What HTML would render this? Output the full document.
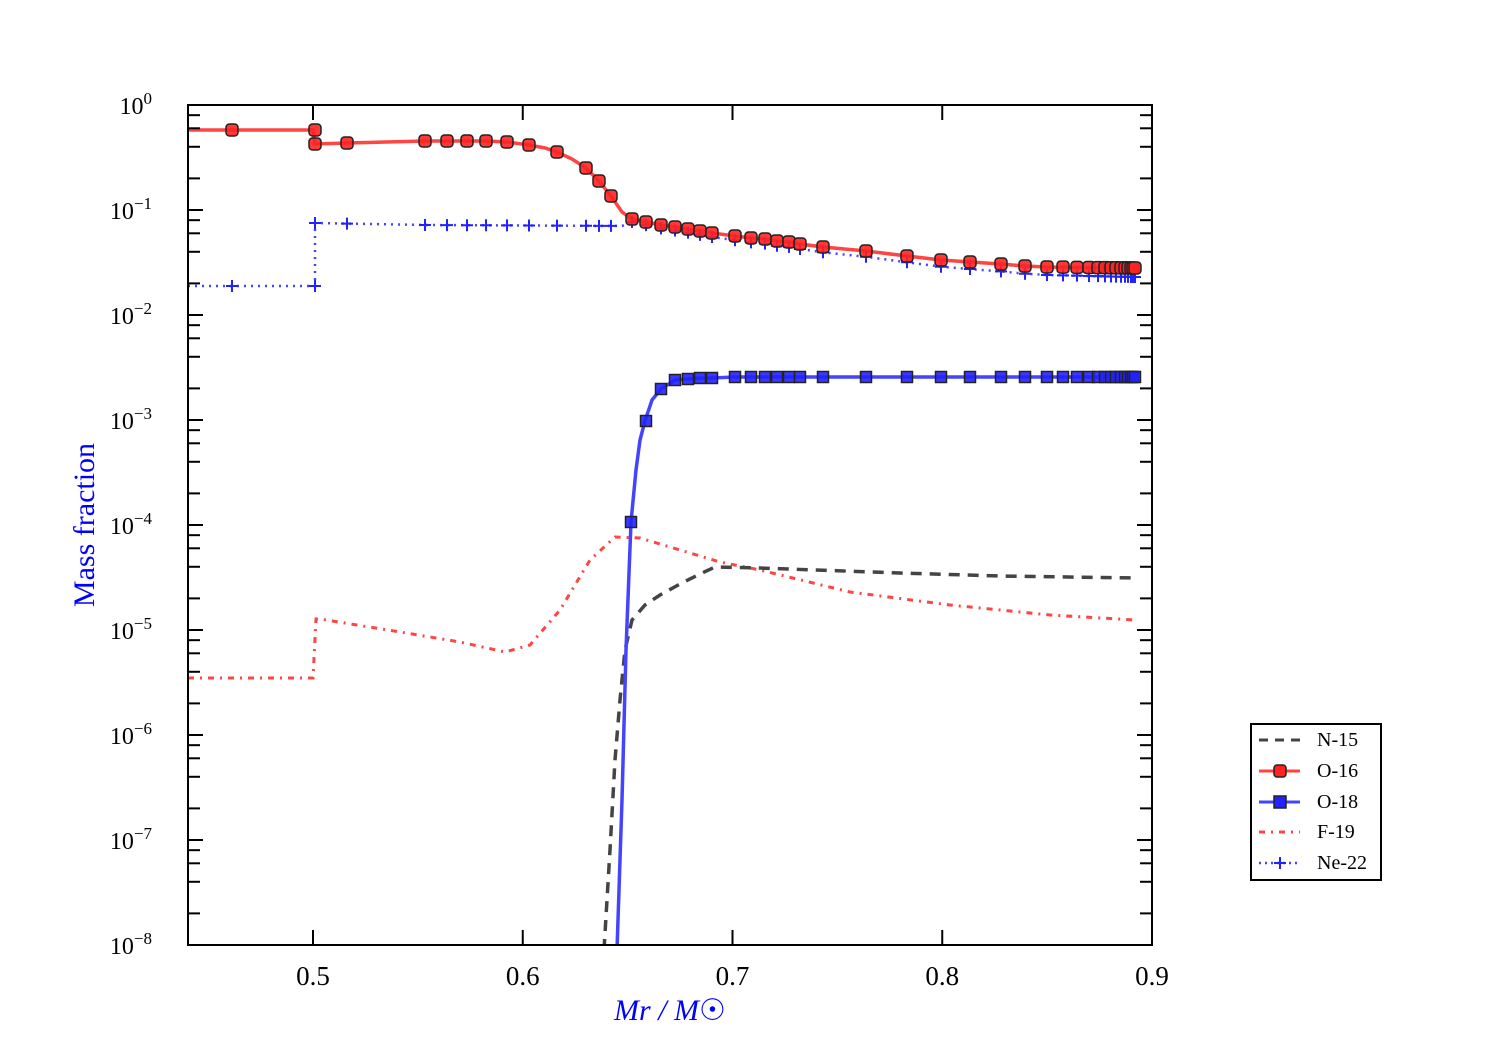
<!DOCTYPE html>
<html><head><meta charset="utf-8"><style>
body{margin:0;background:#fff}
text{font-family:"Liberation Serif",serif}
</style></head><body>
<svg id="s" width="1500" height="1050" xmlns="http://www.w3.org/2000/svg">
<rect width="1500" height="1050" fill="#fff"/>
<defs><clipPath id="c"><rect x="188" y="105" width="964" height="840"/></clipPath></defs>
<g id="plot" clip-path="url(#c)"></g>
<g id="ax"></g>
<rect x="188" y="105" width="964" height="840" fill="none" stroke="#000" stroke-width="2"/>
<text x="670" y="1020" font-size="30" fill="#00f" text-anchor="middle" font-style="italic">Mr / M<tspan font-style="normal">☉</tspan></text>
<text transform="translate(94,525) rotate(-90)" font-size="30" fill="#00f" text-anchor="middle">Mass fraction</text>
<g id="leg">
<rect x="1251" y="724" width="130" height="156" fill="#fff" stroke="#000" stroke-width="2"/>
<line x1="1259" y1="740" x2="1300" y2="740" stroke="#444" stroke-width="3" stroke-dasharray="9,7"/>
<line x1="1259" y1="771" x2="1300" y2="771" stroke="#f44" stroke-width="3"/>
<rect x="1274" y="765" width="12" height="12" rx="3" fill="#f22" stroke="#222" stroke-width="1.5"/>
<line x1="1259" y1="802" x2="1300" y2="802" stroke="#44f" stroke-width="3"/>
<rect x="1274" y="796" width="12" height="12" fill="#22f" stroke="#222" stroke-width="1.5"/>
<line x1="1259" y1="832" x2="1300" y2="832" stroke="#f44" stroke-width="3" stroke-dasharray="6,6,2,6"/>
<line x1="1259" y1="863" x2="1300" y2="863" stroke="#44f" stroke-width="2.5" stroke-dasharray="2,4"/>
<path d="M1274 863h12M1280 857v12" stroke="#22f" stroke-width="2"/>
<g font-size="20" fill="#000"><text x="1317" y="746">N-15</text><text x="1317" y="777">O-16</text><text x="1317" y="808">O-18</text><text x="1317" y="838">F-19</text><text x="1317" y="869">Ne-22</text></g>
</g>
</svg>
<script>
const NS="http://www.w3.org/2000/svg";
function el(p,t,a,txt){const e=document.createElementNS(NS,t);for(const k in a)e.setAttribute(k,a[k]);if(txt!==undefined)e.textContent=txt;p.appendChild(e);return e;}
const ax=document.getElementById('ax'),pl=document.getElementById('plot');
for(let d=0;d<=8;d++){const y=105+105*d;
 el(ax,'line',{x1:188,y1:y,x2:203,y2:y,stroke:'#000','stroke-width':2});
 el(ax,'line',{x1:1137,y1:y,x2:1152,y2:y,stroke:'#000','stroke-width':2});
 const t=el(ax,'text',{x:152,y:y+9,'font-size':24,'text-anchor':'end'},'10');
 el(t,'tspan',{dy:-10,'font-size':17},d==0?'0':'−'+d);
 if(d<8)for(const m of [2,4,6,8]){const yy=y+105-105*Math.log10(m);
  el(ax,'line',{x1:188,y1:yy,x2:200,y2:yy,stroke:'#000','stroke-width':2});
  el(ax,'line',{x1:1140,y1:yy,x2:1152,y2:yy,stroke:'#000','stroke-width':2});}
}
[0.5,0.6,0.7,0.8,0.9].forEach((v,i)=>{const x=313+i*209.75;
 el(ax,'line',{x1:x,y1:945,x2:x,y2:930,stroke:'#000','stroke-width':2});
 el(ax,'line',{x1:x,y1:105,x2:x,y2:120,stroke:'#000','stroke-width':2});
 el(ax,'text',{x:x,y:985,'font-size':27,'text-anchor':'middle'},String(v));});
const P=a=>'M'+a.map(p=>p.join(' ')).join('L');
el(pl,'path',{d:P([[188,678],[313,678],[316,619],[320,619],[400,632],[460,642],[505,652],[530,645],[560,610],[590,560],[615,537],[640,538],[680,550],[720,562],[760,570],[850,592],[950,605],[1050,615],[1135,620]]),fill:'none',stroke:'#f44','stroke-width':3,'stroke-dasharray':'6,6,2,6'});
el(pl,'path',{d:P([[604,950],[610,850],[615,760],[620,700],[625,650],[632,620],[645,605],[660,595],[680,584],[700,574],[715,567],[760,568],[900,573],[1000,576],[1135,578]]),fill:'none',stroke:'#444','stroke-width':3.5,'stroke-dasharray':'11,8'});
const xs=[232,315,347,425,447,467,486,507,529,557,586,599,611,632,646,661,675,688,700,712,735,751,765,777,789,800,823,866,907,941,970,1001,1025,1047,1063,1077,1089,1098,1105,1111,1116,1121,1125,1128,1131,1133,1135];
const oy=[[188,130],[313,130],[315,144],[347,143],[425,141],[486,141],[507,142],[529,145],[545,148],[557,152],[572,159],[586,168],[599,181],[611,196],[622,212],[632,219],[646,222],[661,225],[675,227],[688,229],[700,231],[712,233],[735,236],[751,238],[765,239],[777,241],[789,242],[800,244],[823,247],[866,251],[907,256],[941,260],[970,262],[1001,264],[1025,266],[1047,267],[1135,268]];
function interp(a,x){for(let i=1;i<a.length;i++)if(x<=a[i][0]){const[p,q]=[a[i-1],a[i]];return p[1]+(q[1]-p[1])*(x-p[0])/(q[0]-p[0]||1);}return a[a.length-1][1];}
const ny=oy.map(p=>[p[0],p[0]<=313?286:(p[0]<632?interp([[315,223],[425,225],[632,226]],p[0]):p[1]+3+ (p[0]-632)*0.012)]);
ny.splice(2,0,[315,286],[315,223]);
el(pl,'path',{d:P(ny.filter(p=>p[0]!=313)),fill:'none',stroke:'#44f','stroke-width':2.5,'stroke-dasharray':'2,5'});
el(pl,'path',{d:P(oy),fill:'none',stroke:'#f44','stroke-width':3.5});
const o18=[[617,950],[622,800],[626,650],[631,522],[636,470],[640,440],[645,421],[652,400],[661,389],[675,380],[688,379],[700,378],[712,378],[735,377],[1135,377]];
el(pl,'path',{d:P(o18),fill:'none',stroke:'#44f','stroke-width':3.5});
const nm=[[232,286],[315,286],[315,223]].concat(xs.slice(2).map(x=>[x,interp(ny.slice(3),x)]));
nm.forEach(([x,y])=>el(pl,'path',{d:`M${x-6} ${y}h12M${x} ${y-6}v12`,stroke:'#22f','stroke-width':2}));
const om=[[232,130],[315,130],[315,144]].concat(xs.slice(2).map(x=>[x,interp(oy,x)]));
om.forEach(([x,y])=>el(pl,'rect',{x:x-6,y:y-6,width:12,height:12,rx:3.5,fill:'#f22','fill-opacity':0.9,stroke:'#222','stroke-width':1.5}));
const o18m=[[631,522],[646,421],[661,389],[675,380],[688,379],[700,378],[712,378]];
xs.filter(x=>x>712).forEach(x=>o18m.push([x,377]));
o18m.forEach(([x,y])=>el(pl,'rect',{x:x-5.5,y:y-5.5,width:11,height:11,fill:'#22f','fill-opacity':0.9,stroke:'#222','stroke-width':1.5}));
</script>
</body></html>
